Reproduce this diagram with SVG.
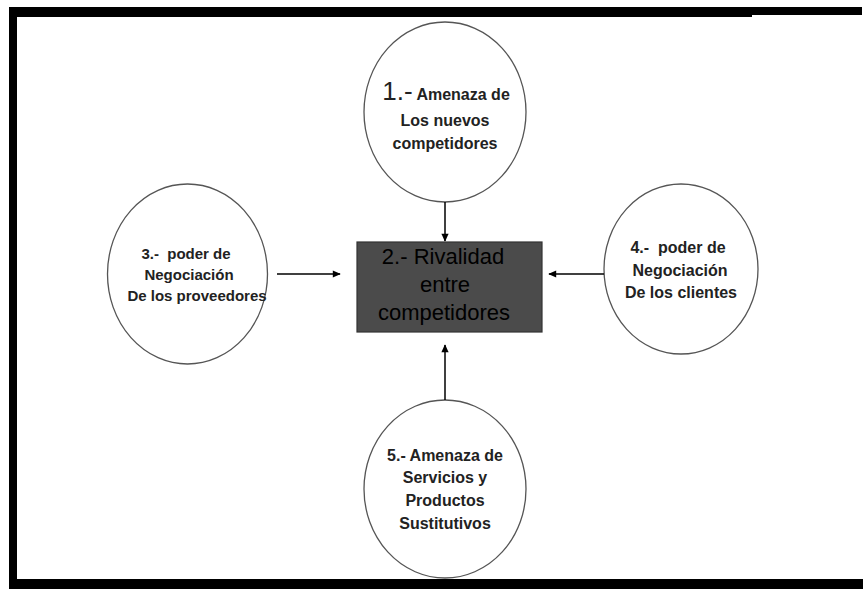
<svg xmlns="http://www.w3.org/2000/svg" width="863" height="589" viewBox="0 0 863 589">
<defs>
<marker id="arr" viewBox="0 0 10 10" refX="10" refY="5" markerWidth="5" markerHeight="5" orient="auto" markerUnits="userSpaceOnUse">
<path d="M0,0 L10,5 L0,10 z" fill="#000"/>
</marker>
<marker id="ah" viewBox="0 0 10 10" refX="9" refY="5" markerWidth="9" markerHeight="8" orient="auto" markerUnits="userSpaceOnUse">
<path d="M0,0.5 L10,5 L0,9.5 z" fill="#000"/>
</marker>
</defs>
<style>
.oval{fill:#fff;stroke:#555;stroke-width:1.3}
.lbl{font-family:"Liberation Sans",Arial,sans-serif;font-weight:bold;font-size:16px;fill:#222;text-anchor:middle}
.big{font-family:"Liberation Sans",Arial,sans-serif;font-size:22px;fill:#000;text-anchor:middle}
.conn{stroke:#000;stroke-width:1.5;fill:none;marker-end:url(#ah)}
.frame{fill:#000}
</style>
<rect width="863" height="589" fill="#fff"/>
<g id="frame">
<rect class="frame" x="9" y="7" width="743" height="10"/>
<rect class="frame" x="752" y="7" width="110" height="8"/>
<rect class="frame" x="9" y="7" width="8" height="582"/>
<rect class="frame" x="9" y="579" width="854" height="10"/>
</g>
<g id="node1">
<ellipse class="oval" cx="445" cy="112" rx="81" ry="90"/>
<text class="lbl" x="446" y="100"><tspan style="font-weight:normal;font-size:26px">1.-</tspan> Amenaza de</text>
<text class="lbl" x="445" y="126">Los nuevos</text>
<text class="lbl" x="445" y="149">competidores</text>
</g>
<g id="node2">
<rect x="357" y="242" width="185" height="90" fill="#4b4b4b" stroke="#333" stroke-width="1.2"/>
<text class="big" x="443" y="264">2.- Rivalidad</text>
<text class="big" x="445" y="292">entre</text>
<text class="big" x="444" y="320">competidores</text>
</g>
<g id="node3">
<ellipse class="oval" cx="187.5" cy="274" rx="80" ry="90"/>
<text class="lbl" x="186" y="259" style="font-size:15px" xml:space="preserve">3.-  poder de</text>
<text class="lbl" x="189" y="280" style="font-size:15px">Negociación</text>
<text class="lbl" x="197" y="301" style="font-size:15px">De los proveedores</text>
</g>
<g id="node4">
<ellipse class="oval" cx="681" cy="269" rx="77" ry="85"/>
<text class="lbl" x="678" y="253" xml:space="preserve">4.-  poder de</text>
<text class="lbl" x="680" y="276">Negociación</text>
<text class="lbl" x="681" y="298">De los clientes</text>
</g>
<g id="node5">
<ellipse class="oval" cx="445" cy="489" rx="81" ry="89"/>
<text class="lbl" x="445" y="461">5.- Amenaza de</text>
<text class="lbl" x="445" y="483">Servicios y</text>
<text class="lbl" x="445" y="506">Productos</text>
<text class="lbl" x="445" y="529">Sustitutivos</text>
</g>
<g id="connectors">
<line class="conn" x1="445" y1="202" x2="445" y2="241"/>
<line class="conn" x1="277" y1="274" x2="340" y2="274"/>
<line class="conn" x1="604" y1="274" x2="549" y2="274"/>
<line class="conn" x1="445" y1="400" x2="445" y2="345"/>
</g>
</svg>
